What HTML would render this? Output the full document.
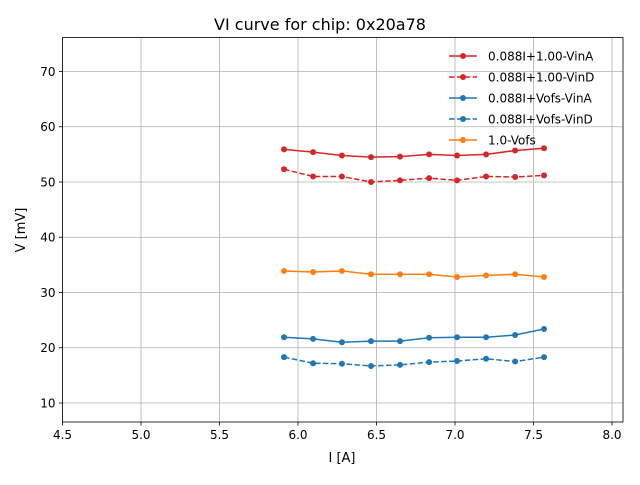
<!DOCTYPE html>
<html><head><meta charset="utf-8"><style>
body{margin:0;background:#fff}
svg text{font-family:"DejaVu Sans","Liberation Sans",sans-serif;fill:#000}
</style></head><body>
<svg id="chart" width="640" height="480" viewBox="0 0 640 480" xmlns="http://www.w3.org/2000/svg">
<rect width="640" height="480" fill="#fff"/>
<g id="grid"></g>
<g id="series"></g>
<rect x="62.5" y="37.5" width="560.5" height="384.5" fill="none" stroke="#000" stroke-width="0.8"/>
<g id="axes"></g>
<text x="320" y="30" font-size="16" text-anchor="middle">VI curve for chip: 0x20a78</text>
<text x="342" y="462" font-size="13" text-anchor="middle">I [A]</text>
<text x="25" y="230" font-size="13" text-anchor="middle" transform="rotate(-90 25 230)">V [mV]</text>
<g id="legend"></g>
</svg>
<script>
const currents=[5.911,6.096,6.28,6.465,6.65,6.835,7.013,7.198,7.383,7.567];
const vinA100=[55.9,55.4,54.8,54.5,54.6,55.0,54.8,55.0,55.7,56.1];
const vinD100=[52.3,51.0,51.0,50.0,50.3,50.7,50.3,51.0,50.9,51.2];
const vinAVofs=[21.9,21.6,21.0,21.2,21.2,21.8,21.9,21.9,22.3,23.4];
const vinDVofs=[18.3,17.2,17.1,16.7,16.9,17.4,17.6,18.0,17.5,18.3];
const vofs=[33.9,33.7,33.9,33.3,33.3,33.3,32.8,33.1,33.3,32.8];
const xTicks=[4.5,5.0,5.5,6.0,6.5,7.0,7.5,8.0];
const yTicks=[10,20,30,40,50,60,70];
const seriesNames=["0.088I+1.00-VinA","0.088I+1.00-VinD","0.088I+Vofs-VinA","0.088I+Vofs-VinD","1.0-Vofs"];

const NS="http://www.w3.org/2000/svg";
const L=62.5,R=623,T=37.5,B=422;
const xMin=4.5,xMax=8.07,yMin=6.56,yMax=76.15;
const xs=v=>L+(v-xMin)/(xMax-xMin)*(R-L);
const ys=v=>B-(v-yMin)/(yMax-yMin)*(B-T);
function mk(tag,attrs,parent){const e=document.createElementNS(NS,tag);for(const k in attrs)e.setAttribute(k,attrs[k]);parent.appendChild(e);return e;}
const grid=document.getElementById('grid'),axes=document.getElementById('axes'),ser=document.getElementById('series'),leg=document.getElementById('legend');
xTicks.forEach(t=>{const x=xs(t);
 const g=mk('line',{x1:x,x2:x,y1:T,y2:B,stroke:'#b0b0b0','stroke-width':0.8},grid);
 
 mk('line',{x1:x,x2:x,y1:B,y2:B+3.5,stroke:'#000','stroke-width':0.8},axes);
 const tx=mk('text',{x:x,y:B+17,'font-size':12,'text-anchor':'middle'},axes);tx.textContent=t.toFixed(1);
 });
yTicks.forEach(t=>{const y=ys(t);
 const g=mk('line',{x1:L,x2:R,y1:y,y2:y,stroke:'#b0b0b0','stroke-width':0.8},grid);
 
 mk('line',{x1:L-3.5,x2:L,y1:y,y2:y,stroke:'#000','stroke-width':0.8},axes);
 const tx=mk('text',{x:L-7,y:y+4.5,'font-size':12,'text-anchor':'end'},axes);tx.textContent=t;
 });
const defs=[[vinA100,'#d62728',''],[vinD100,'#d62728','5.5,2.4'],[vinAVofs,'#1f77b4',''],[vinDVofs,'#1f77b4','5.5,2.4'],[vofs,'#ff7f0e','']];
defs.forEach((d,i)=>{const [vals,c,dash]=d;
 const g=mk('g',{},ser);
 const pts=vals.map((v,j)=>xs(currents[j])+','+ys(v)).join(' ');
 mk('polyline',{points:pts,fill:'none',stroke:c,'stroke-width':1.5,'stroke-dasharray':dash},g);
 vals.forEach((v,j)=>{const p=mk('circle',{cx:xs(currents[j]),cy:ys(v),r:3,fill:c},g);
  });
 const y=56+i*21;
 const le=mk('g',{},leg);
 mk('line',{x1:449,x2:477,y1:y,y2:y,stroke:c,'stroke-width':1.5,'stroke-dasharray':dash},le);
 mk('circle',{cx:463,cy:y,r:3,fill:c},le);
 const t=mk('text',{x:488,y:y+4.5,'font-size':12},le);t.textContent=seriesNames[i];});
</script>
</body></html>
